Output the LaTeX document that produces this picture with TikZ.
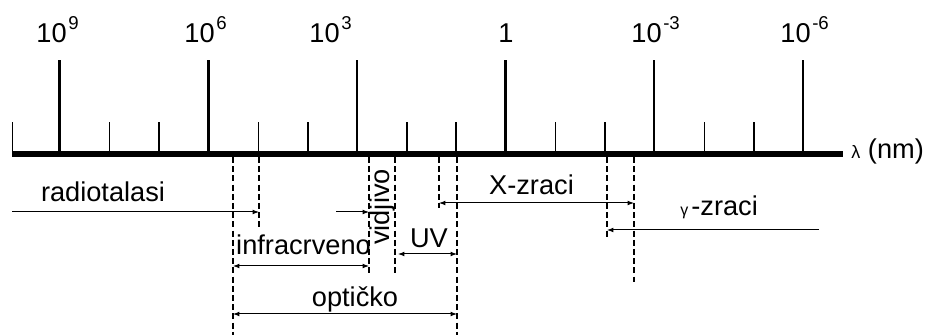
\documentclass[tikz,border=0pt]{standalone}
\usepackage{fontspec}
\setmainfont{Liberation Sans}
\usetikzlibrary{arrows.meta}
\newcommand\myexp[2]{#1\hspace{0.8pt}\raisebox{6.5pt}{\fontsize{9.3}{10}\selectfont #2}}
\begin{document}
\begin{tikzpicture}[x=0.5pt,y=-0.5pt,
  lab/.style={font=\fontsize{13.6}{15}\selectfont, inner sep=0pt},
  axisline/.style={line width=3pt},
  majortick/.style={line width=1.4pt},
  minortick/.style={line width=0.85pt},
  bound/.style={line width=0.9pt, dash pattern=on 3pt off 1.6pt},
  tip/.tip={Latex[length=3.2pt,width=2.4pt]},
  rng/.style={line width=0.5pt, -tip},
  rngb/.style={line width=0.5pt, tip-tip},
]
\useasboundingbox (0,0) rectangle (928,336);
% axis
\coordinate (axl) at (12,154);
\coordinate (axr) at (843,154);
\draw[axisline] (axl) -- (axr);
% major ticks
\foreach \x [count=\i] in {59.5,208.5,357,505.5,654,803}{
  \coordinate (M\i b) at (\x,154);
  \coordinate (M\i t) at (\x,60);
  \draw[majortick] (M\i b) -- (M\i t);
}
% minor ticks
\foreach \x [count=\i] in {12.5,109.5,159,258.5,308,407,456,555.5,605,704.5,754}{
  \coordinate (m\i b) at (\x,154);
  \coordinate (m\i t) at (\x,122);
  \draw[minortick] (m\i b) -- (m\i t);
}
% tick labels
\node[lab, anchor=base west] (l9) at (36,43) {\myexp{10}{9}};
\node[lab, anchor=base west] (l6) at (184,43) {\myexp{10}{6}};
\node[lab, anchor=base west] (l3) at (309,43) {\myexp{10}{3}};
\node[lab, anchor=base west] (l0) at (498,43) {1};
\node[lab, anchor=base west] (lm3) at (631,43) {\myexp{10}{-3}};
\node[lab, anchor=base west] (lm6) at (780,43) {\myexp{10}{-6}};
\node[lab, anchor=base west] (lam) at (851,159) {{\fontsize{9}{10}\selectfont λ} (nm)};
% dashed boundaries
\foreach \n/\x/\yb in {1/233/335, 2/259/228, 3/369/275, 4/395/275, 5/439/208, 6/457/335, 7/607/237, 8/634/282}{
  \coordinate (d\n t) at (\x,157);
  \coordinate (d\n b) at (\x,\yb);
  \draw[bound] (d\n t) -- (d\n b);
}
% range arrows
\coordinate (radA) at (12,212);   \coordinate (radB) at (259,212);
\coordinate (visA) at (336,212);  \coordinate (visB) at (369,212);
\coordinate (irA) at (233,266);   \coordinate (irB) at (369,266);
\coordinate (uvA) at (398,254);   \coordinate (uvB) at (457,254);
\coordinate (opA) at (233,314);   \coordinate (opB) at (457,314);
\coordinate (xA) at (439,203);    \coordinate (xB) at (634,203);
\coordinate (gA) at (819,230);    \coordinate (gB) at (607,230);
\draw[rng] (radA) -- (radB);
\draw[rng] (visA) -- (visB);
\draw[rngb] (irA) -- (irB);
\draw[rngb] (uvA) -- (uvB);
\draw[rngb] (opA) -- (opB);
\draw[rngb] (xA) -- (xB);
\draw[rng] (gA) -- (gB);
% range labels
\node[lab, anchor=base] (trad) at (103,202) {radiotalasi};
\node[lab, anchor=base] (tir) at (303.5,255) {infracrveno};
\node[lab, anchor=base] (tuv) at (429,248) {UV};
\node[lab, anchor=base] (top) at (355,307) {optičko};
\node[lab, anchor=base] (tx) at (531.5,195) {X-zraci};
\node[lab, anchor=base west] (tg) at (680,216) {{\fontsize{8}{9}\selectfont γ}\hspace{1.5pt}-zraci};
\node[lab, rotate=90, anchor=center] (tvis) at (382.5,207) {vidjivo};
\end{tikzpicture}
\end{document}
